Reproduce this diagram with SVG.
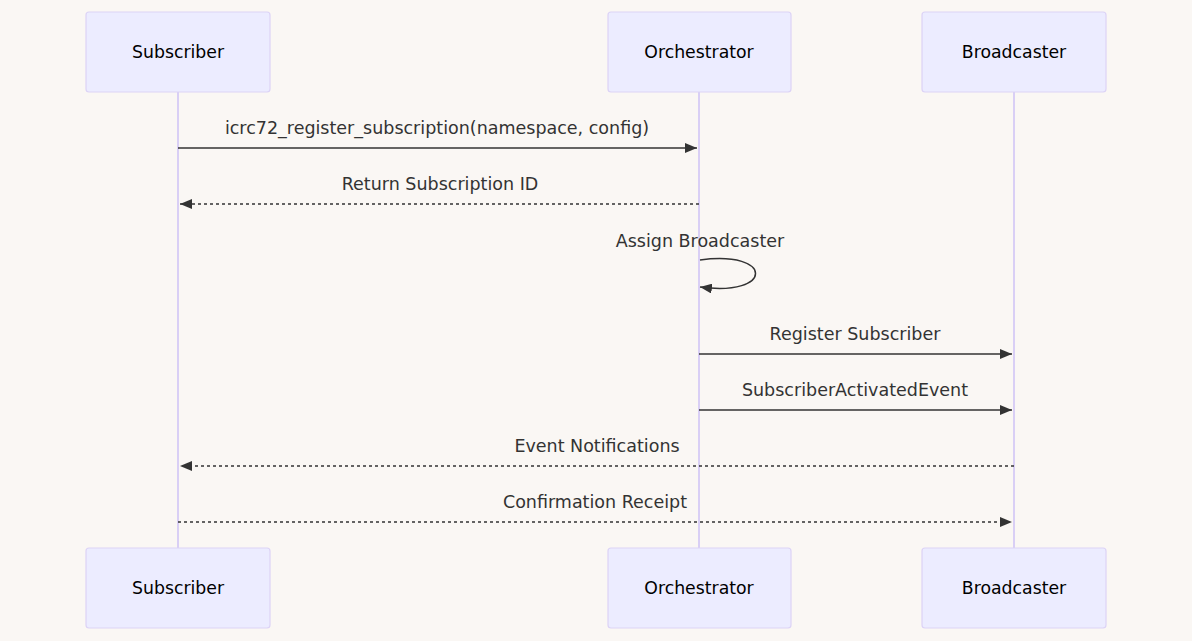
<svg xmlns="http://www.w3.org/2000/svg" width="1192" height="641" viewBox="0 0 1192 641">
<style>
.bg{fill:#faf7f4}
.actor{fill:#ececff;stroke:#dcd3f6;stroke-width:1.2}
.life{stroke:#d9cff5;stroke-width:2}
.atext{font-family:"DejaVu Sans","Liberation Sans",sans-serif;font-size:17.3px;fill:#000;text-anchor:middle;dominant-baseline:central}
.mtext{font-family:"DejaVu Sans","Liberation Sans",sans-serif;font-size:17.5px;fill:#333;text-anchor:middle}
.msg{stroke:#333;stroke-width:1.5;fill:none}
.dash{stroke-dasharray:3,3}
</style>
<defs>
<marker id="arrow" viewBox="0 0 12 10" refX="12" refY="5" markerWidth="12" markerHeight="10" markerUnits="userSpaceOnUse" orient="auto">
<path d="M0,0 L12,5 L0,10 z" fill="#333"/>
</marker>
</defs>
<rect class="bg" x="0" y="0" width="1192" height="641"/>
<g id="lifelines">
<line class="life" x1="178" y1="92" x2="178" y2="548"/>
<line class="life" x1="699" y1="92" x2="699" y2="548"/>
<line class="life" x1="1014" y1="92" x2="1014" y2="548"/>
</g>
<g id="actor-subscriber-top"><rect class="actor" x="86" y="12" width="184" height="80" rx="3"/><text class="atext" x="178" y="52">Subscriber</text></g>
<g id="actor-orchestrator-top"><rect class="actor" x="608" y="12" width="183" height="80" rx="3"/><text class="atext" x="699" y="52">Orchestrator</text></g>
<g id="actor-broadcaster-top"><rect class="actor" x="922" y="12" width="184" height="80" rx="3"/><text class="atext" x="1014" y="52">Broadcaster</text></g>
<g id="actor-subscriber-bottom"><rect class="actor" x="86" y="548" width="184" height="80" rx="3"/><text class="atext" x="178" y="588">Subscriber</text></g>
<g id="actor-orchestrator-bottom"><rect class="actor" x="608" y="548" width="183" height="80" rx="3"/><text class="atext" x="699" y="588">Orchestrator</text></g>
<g id="actor-broadcaster-bottom"><rect class="actor" x="922" y="548" width="184" height="80" rx="3"/><text class="atext" x="1014" y="588">Broadcaster</text></g>
<g id="connectors">
<line class="msg" x1="178" y1="148" x2="697" y2="148" marker-end="url(#arrow)"/>
<line class="msg dash" x1="699" y1="204" x2="180" y2="204" marker-end="url(#arrow)"/>
<path class="msg" d="M700,260 C774,250 774,297 700,287" marker-end="url(#arrow)"/>
<line class="msg" x1="699" y1="354" x2="1012" y2="354" marker-end="url(#arrow)"/>
<line class="msg" x1="699" y1="410" x2="1012" y2="410" marker-end="url(#arrow)"/>
<line class="msg dash" x1="1014" y1="466" x2="180" y2="466" marker-end="url(#arrow)"/>
<line class="msg dash" x1="178" y1="522" x2="1012" y2="522" marker-end="url(#arrow)"/>
</g>
<g id="labels">
<text class="mtext" x="437" y="134">icrc72_register_subscription(namespace, config)</text>
<text class="mtext" x="440" y="190">Return Subscription ID</text>
<text class="mtext" x="700" y="247">Assign Broadcaster</text>
<text class="mtext" x="855" y="340">Register Subscriber</text>
<text class="mtext" x="855" y="396">SubscriberActivatedEvent</text>
<text class="mtext" x="597" y="452">Event Notifications</text>
<text class="mtext" x="595" y="508">Confirmation Receipt</text>
</g>
</svg>
